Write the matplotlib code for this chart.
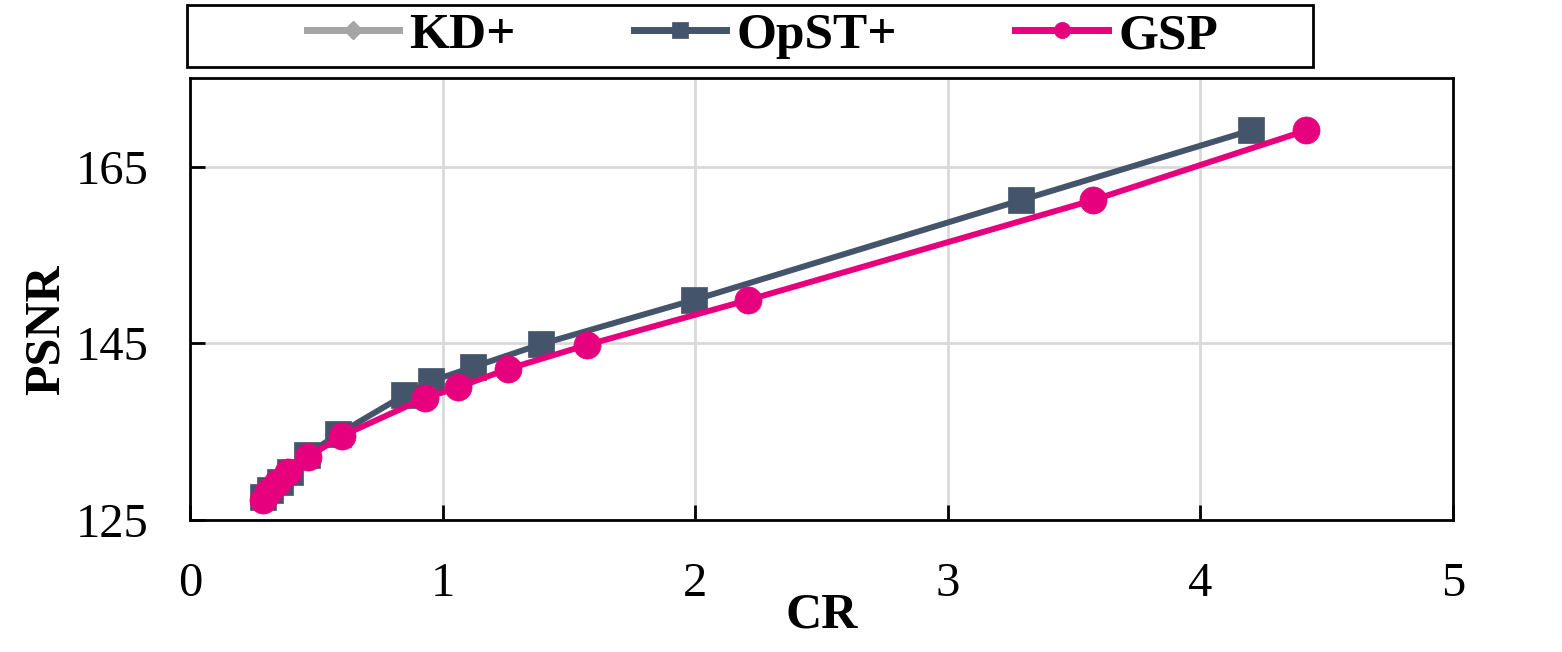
import numpy as np
import matplotlib
matplotlib.use("Agg")
import matplotlib.pyplot as plt
from matplotlib.patches import Rectangle

plt.rcParams['font.family'] = ['Liberation Serif', 'DejaVu Serif']

# KD+ has no visible points in the chart (legend only)
kd_cr = []
kd_psnr = []

opst_cr = [0.289, 0.317, 0.356, 0.396, 0.463, 0.586, 0.847, 0.954, 1.12, 1.39, 1.995, 3.29, 4.20]
opst_psnr = [127.6, 128.4, 129.3, 130.4, 132.4, 134.7, 139.1, 140.7, 142.3, 144.9, 149.9, 161.2, 169.1]

gsp_cr = [0.29, 0.31, 0.344, 0.39, 0.467, 0.60, 0.93, 1.06, 1.26, 1.57, 2.21, 3.575, 4.42]
gsp_psnr = [127.3, 128.2, 129.2, 130.4, 132.1, 134.5, 138.8, 140.0, 142.1, 144.8, 149.9, 161.2, 169.1]

xticks = [0, 1, 2, 3, 4, 5]
yticks = [125, 145, 165]

fig = plt.figure(figsize=(15.62, 6.52), dpi=100)
ax = fig.add_axes([0.1216, 0.2025, 0.8086, 0.6775])

ax.plot(kd_cr, kd_psnr, color="#A5A5A5", marker="D", markersize=16, linewidth=4.3, label="KD+")
ax.plot(opst_cr, opst_psnr, color="#44546A", marker="s", markersize=19, markeredgewidth=0.5,
        linewidth=4.3, label="OpST+", zorder=3)
ax.plot(gsp_cr, gsp_psnr, color="#E6007E", marker="o", markersize=19.5, markeredgewidth=0.5,
        linewidth=4.3, label="GSP", zorder=4)

ax.set_xlim(0, 5)
ax.set_ylim(125, 175)
ax.set_xticks(xticks)
ax.set_yticks(yticks)
ax.grid(True, color="#D9D9D9", linewidth=2)
ax.set_axisbelow(True)

for s in ax.spines.values():
    s.set_linewidth(2)
ax.tick_params(direction="in", length=11, width=2, labelsize=35)
ax.tick_params(axis="x", pad=30)
ax.tick_params(axis="y", pad=30)

ax.set_xlabel("CR", fontsize=36, fontweight="bold")
ax.xaxis.set_label_coords(0.5, -0.165)
ax.set_ylabel("PSNR", fontsize=36, fontweight="bold")
ax.yaxis.set_label_coords(-0.095, 0.43)

# legend box drawn separately, entries centred inside it
fig.add_artist(Rectangle((0.1197, 0.8972), 0.7209, 0.0951, transform=fig.transFigure,
                         fill=False, edgecolor="black", linewidth=2))
leg = fig.legend(loc="center", bbox_to_anchor=(0.488, 0.945), ncol=3, frameon=False,
                 prop={"weight": "bold", "size": 37}, handlelength=1.8,
                 handletextpad=0.2, columnspacing=2.3, markerscale=0.6)
for ln in leg.get_lines():
    ln.set_linewidth(5)

fig.savefig("out.png", dpi=100)
